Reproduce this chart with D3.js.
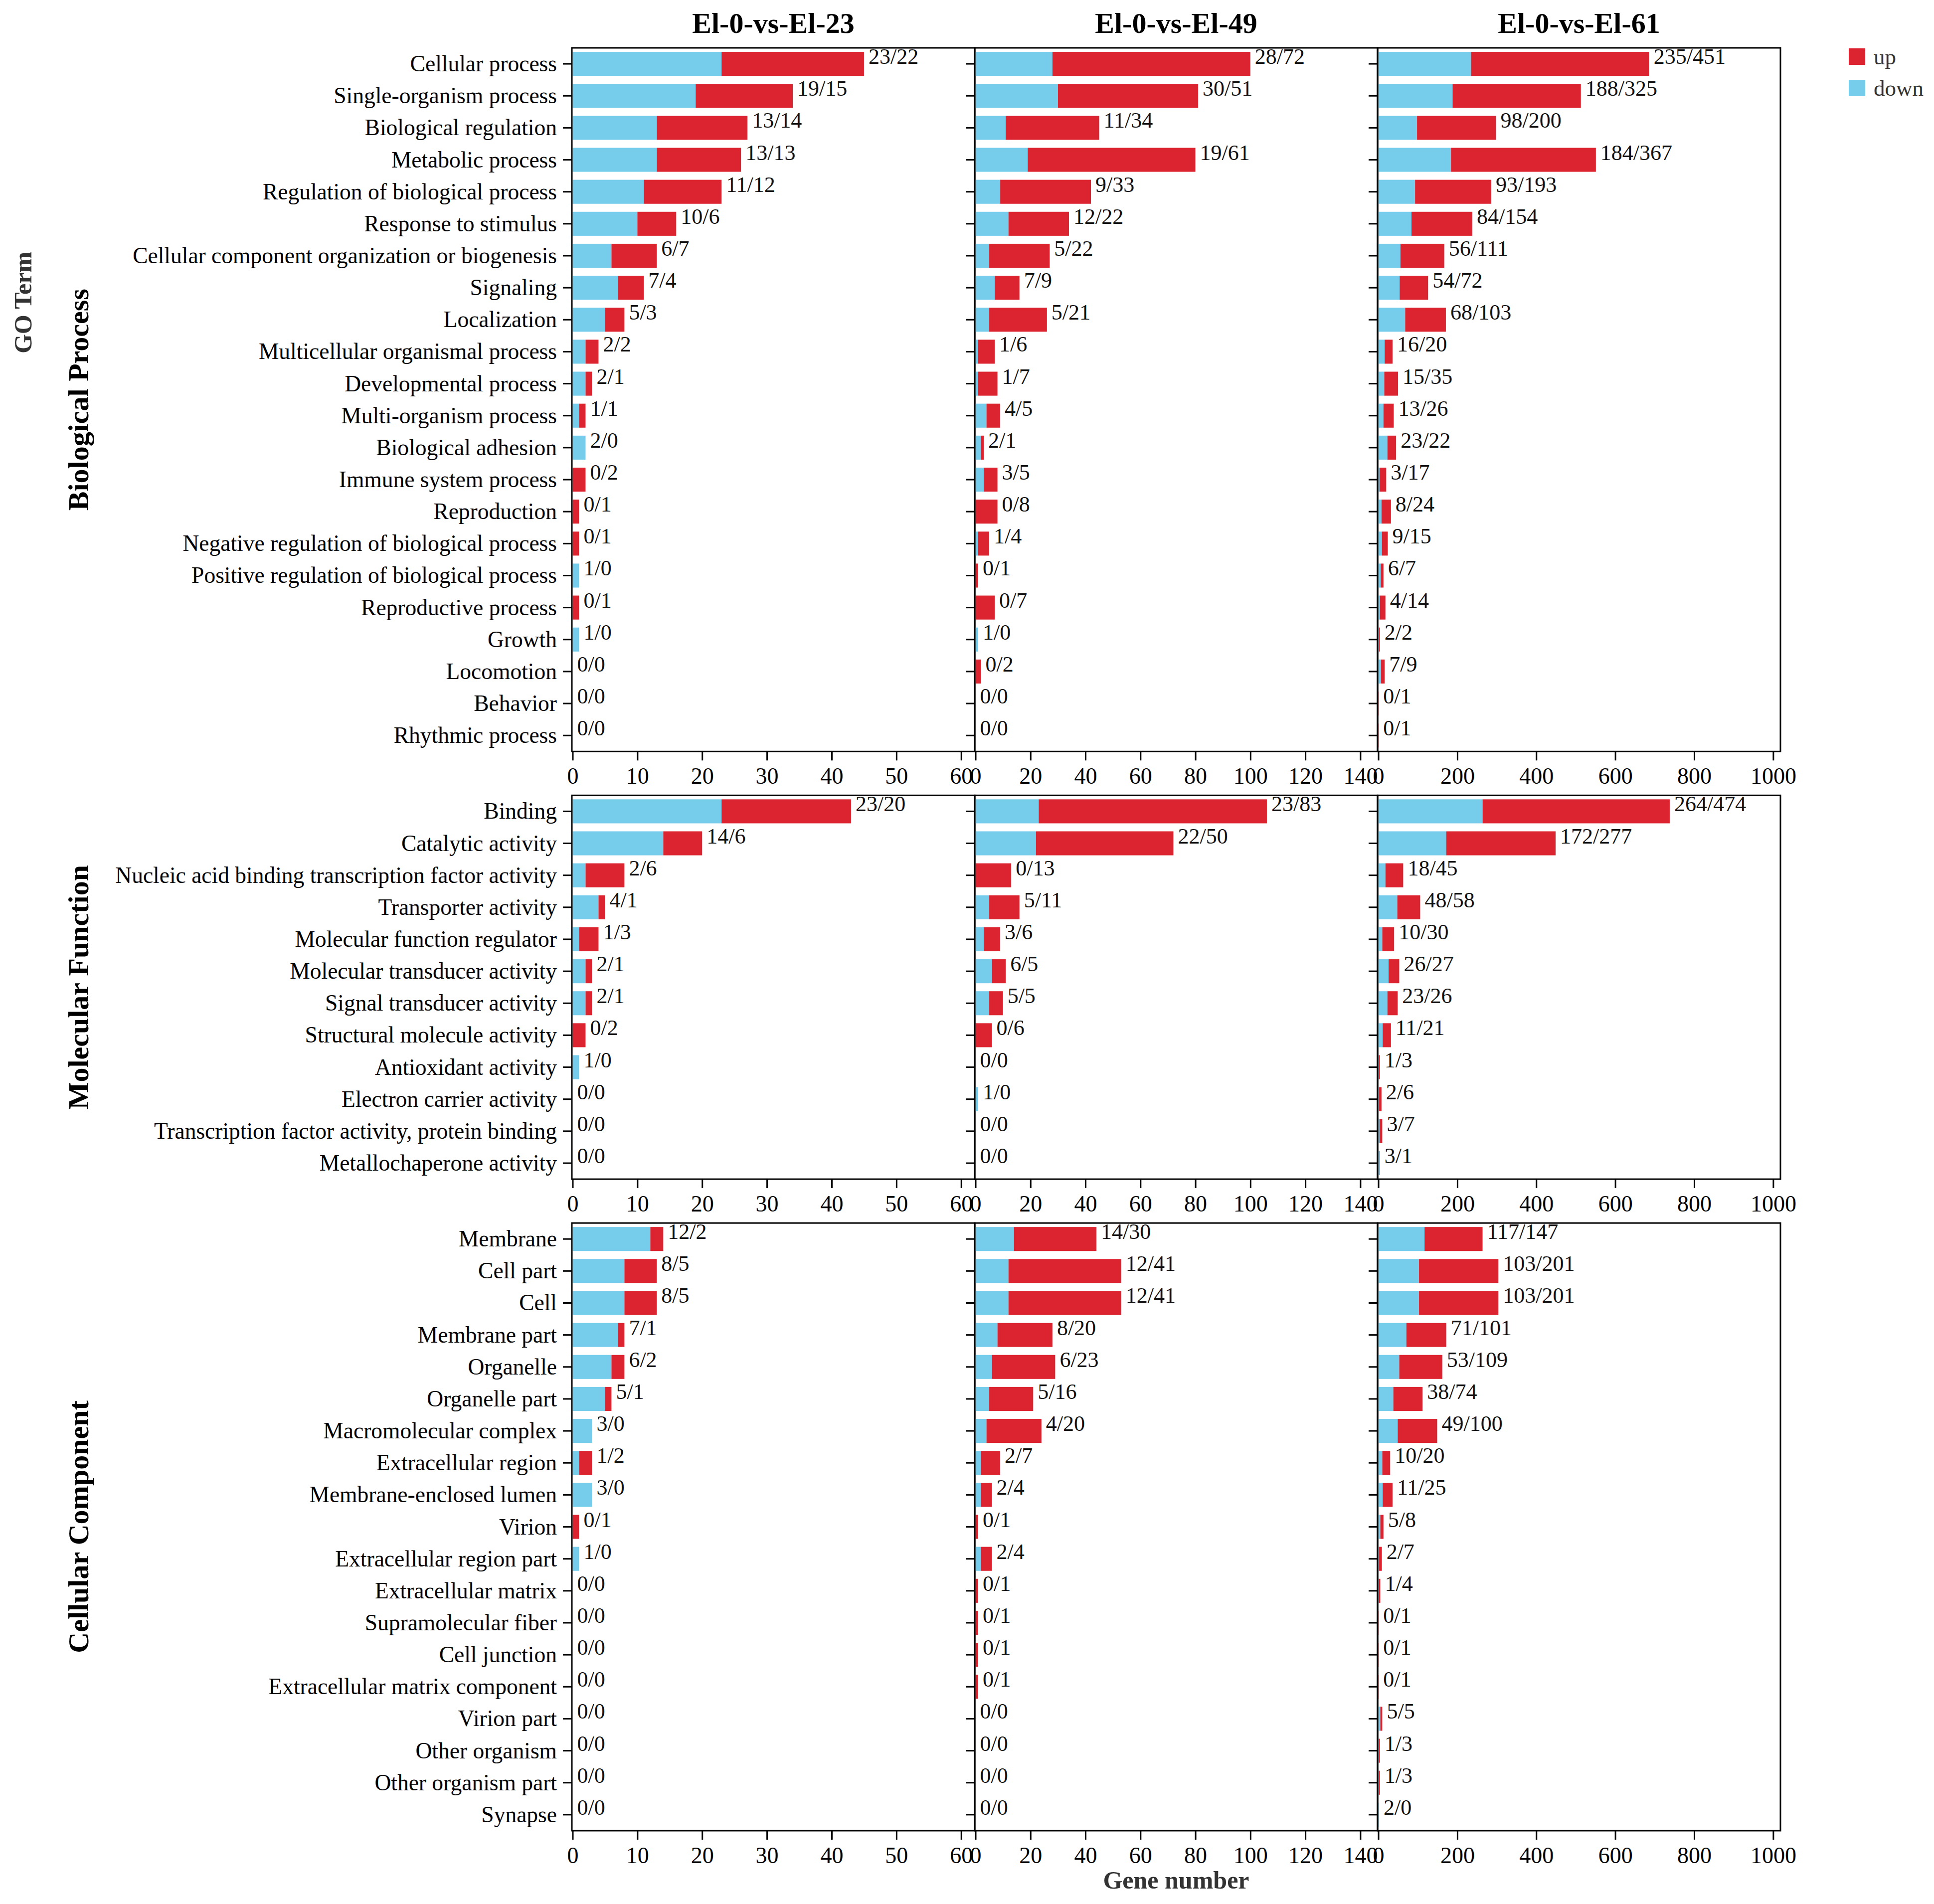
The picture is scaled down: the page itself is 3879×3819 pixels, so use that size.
<!DOCTYPE html>
<html>
<head>
<meta charset="utf-8">
<script src="https://cdn.jsdelivr.net/npm/d3@7"></script>
<style>
  body { margin: 0; background: #fff; }
  text { font-family: "Liberation Serif", "Times New Roman", serif; }
</style>
</head>
<body>
<svg></svg>
<script>
const comparisons = ["El-0-vs-El-23", "El-0-vs-El-49", "El-0-vs-El-61"]

const bpTerms = ["Cellular process", "Single-organism process", "Biological regulation", "Metabolic process",
	"Regulation of biological process", "Response to stimulus", "Cellular component organization or biogenesis",
	"Signaling", "Localization", "Multicellular organismal process", "Developmental process",
	"Multi-organism process", "Biological adhesion", "Immune system process", "Reproduction",
	"Negative regulation of biological process", "Positive regulation of biological process",
	"Reproductive process", "Growth", "Locomotion", "Behavior", "Rhythmic process"]
// one array per comparison
const bpDown = [
	[23, 19, 13, 13, 11, 10, 6, 7, 5, 2, 2, 1, 2, 0, 0, 0, 1, 0, 1, 0, 0, 0],
	[28, 30, 11, 19, 9, 12, 5, 7, 5, 1, 1, 4, 2, 3, 0, 1, 0, 0, 1, 0, 0, 0],
	[235, 188, 98, 184, 93, 84, 56, 54, 68, 16, 15, 13, 23, 3, 8, 9, 6, 4, 2, 7, 0, 0]
]
const bpUp = [
	[22, 15, 14, 13, 12, 6, 7, 4, 3, 2, 1, 1, 0, 2, 1, 1, 0, 1, 0, 0, 0, 0],
	[72, 51, 34, 61, 33, 22, 22, 9, 21, 6, 7, 5, 1, 5, 8, 4, 1, 7, 0, 2, 0, 0],
	[451, 325, 200, 367, 193, 154, 111, 72, 103, 20, 35, 26, 22, 17, 24, 15, 7, 14, 2, 9, 1, 1]
]

const mfTerms = ["Binding", "Catalytic activity", "Nucleic acid binding transcription factor activity",
	"Transporter activity", "Molecular function regulator", "Molecular transducer activity",
	"Signal transducer activity", "Structural molecule activity", "Antioxidant activity",
	"Electron carrier activity", "Transcription factor activity, protein binding", "Metallochaperone activity"]
const mfDown = [
	[23, 14, 2, 4, 1, 2, 2, 0, 1, 0, 0, 0],
	[23, 22, 0, 5, 3, 6, 5, 0, 0, 1, 0, 0],
	[264, 172, 18, 48, 10, 26, 23, 11, 1, 2, 3, 3]
]
const mfUp = [
	[20, 6, 6, 1, 3, 1, 1, 2, 0, 0, 0, 0],
	[83, 50, 13, 11, 6, 5, 5, 6, 0, 0, 0, 0],
	[474, 277, 45, 58, 30, 27, 26, 21, 3, 6, 7, 1]
]

const ccTerms = ["Membrane", "Cell part", "Cell", "Membrane part", "Organelle", "Organelle part",
	"Macromolecular complex", "Extracellular region", "Membrane-enclosed lumen", "Virion",
	"Extracellular region part", "Extracellular matrix", "Supramolecular fiber", "Cell junction",
	"Extracellular matrix component", "Virion part", "Other organism", "Other organism part", "Synapse"]
const ccDown = [
	[12, 8, 8, 7, 6, 5, 3, 1, 3, 0, 1, 0, 0, 0, 0, 0, 0, 0, 0],
	[14, 12, 12, 8, 6, 5, 4, 2, 2, 0, 2, 0, 0, 0, 0, 0, 0, 0, 0],
	[117, 103, 103, 71, 53, 38, 49, 10, 11, 5, 2, 1, 0, 0, 0, 5, 1, 1, 2]
]
const ccUp = [
	[2, 5, 5, 1, 2, 1, 0, 2, 0, 1, 0, 0, 0, 0, 0, 0, 0, 0, 0],
	[30, 41, 41, 20, 23, 16, 20, 7, 4, 1, 4, 1, 1, 1, 1, 0, 0, 0, 0],
	[147, 201, 201, 101, 109, 74, 100, 20, 25, 8, 7, 4, 1, 1, 1, 5, 3, 3, 0]
]

const groupNames = ["Biological Process", "Molecular Function", "Cellular Component"]
const xTicks = [
	[0, 10, 20, 30, 40, 50, 60],
	[0, 20, 40, 60, 80, 100, 120, 140],
	[0, 200, 400, 600, 800, 1000]
]
const legendKeys = ["up", "down"]
const colors = { up: "#dc2430", down: "#75cdeb" }

const groups = [
	{ name: groupNames[0], terms: bpTerms, down: bpDown, up: bpUp },
	{ name: groupNames[1], terms: mfTerms, down: mfDown, up: mfUp },
	{ name: groupNames[2], terms: ccTerms, down: ccDown, up: ccUp }
]

const svg = d3.select("svg")
	.attr("width", 3879)
	.attr("height", 3819)

const panelLeft = 1147
const panelW = 808
const topY = 96
const step = 64.15 // one row
const gap = 88 // between facet rows

// x scale per comparison, room left for the labels
const xScales = comparisons.map((c, ci) => {
	const maxTotal = d3.max(groups, g => d3.max(g.terms, (t, i) => g.down[ci][i] + g.up[ci][i]))
	const left = panelLeft + ci * panelW
	return d3.scaleLinear()
		.domain([0, maxTotal * 1.38])
		.range([left + 1.5, left + panelW])
})

let y0 = topY
groups.forEach((g, gi) => {
	const h = g.terms.length * step
	const yScale = d3.scaleBand()
		.domain(g.terms)
		.range([y0, y0 + h])
		.paddingInner(0.25)
		.paddingOuter(0.125)

	comparisons.forEach((c, ci) => {
		const x = xScales[ci]
		const left = panelLeft + ci * panelW
		const panel = svg.append("g").attr("class", "panel")

		const rows = g.terms.map((t, i) => ({ term: t, down: g.down[ci][i], up: g.up[ci][i] }))

		const bars = panel.selectAll("g.bar")
			.data(rows)
			.enter()
			.append("g")
			.attr("class", "bar")

		bars.append("rect")
			.attr("x", d => x(0))
			.attr("y", d => yScale(d.term))
			.attr("width", d => x(d.down) - x(0))
			.attr("height", yScale.bandwidth())
			.style("fill", colors.down)

		bars.append("rect")
			.attr("x", d => x(d.down))
			.attr("y", d => yScale(d.term))
			.attr("width", d => x(d.down + d.up) - x(d.down))
			.attr("height", yScale.bandwidth())
			.style("fill", colors.up)

		bars.append("text")
			.attr("x", d => x(d.down + d.up) + 9)
			.attr("y", d => yScale(d.term) + yScale.bandwidth() / 2)
			.attr("font-size", 44)
			.attr("fill", "#111")
			.text(d => `${d.down}/${d.up}`)

		// frame
		panel.append("rect")
			.attr("x", left)
			.attr("y", y0)
			.attr("width", panelW)
			.attr("height", h)
			.style("fill", "none")
			.style("stroke", "#000")
			.style("stroke-width", 3)

		// y axis ticks (labels only on first column)
		const yAxis = panel.append("g")
			.attr("transform", `translate(${left},0)`)
			.call(d3.axisLeft(yScale).tickSize(18).tickPadding(12).tickSizeOuter(0))
		yAxis.select(".domain").remove()
		yAxis.selectAll("line").style("stroke-width", 3)
		yAxis.selectAll("text")
			.attr("font-size", 45.5)
			.attr("font-family", "Liberation Serif, Times New Roman, serif")
			.attr("dy", "0.33em")
			.attr("fill", "#000")
		if (ci > 0) yAxis.selectAll("text").remove()

		const xAxis = panel.append("g")
			.attr("transform", `translate(0,${y0 + h})`)
			.call(d3.axisBottom(x).tickValues(xTicks[ci]).tickFormat(d3.format("d"))
				.tickSize(18).tickPadding(14).tickSizeOuter(0))
		xAxis.select(".domain").remove()
		xAxis.selectAll("line").style("stroke-width", 3)
		xAxis.selectAll("text")
			.attr("font-size", 46)
			.attr("font-family", "Liberation Serif, Times New Roman, serif")
			.attr("fill", "#000")
	})

	// facet label at the left
	svg.append("text")
		.attr("transform", `translate(177,${y0 + h / 2}) rotate(-90)`)
		.attr("text-anchor", "middle")
		.attr("font-size", 58)
		.attr("font-weight", "bold")
		.text(g.name)

	y0 += h + gap
})

// column titles
svg.selectAll("text.title")
	.data(comparisons)
	.enter()
	.append("text")
	.attr("class", "title")
	.attr("x", (d, i) => panelLeft + i * panelW + panelW / 2)
	.attr("y", 66)
	.attr("text-anchor", "middle")
	.attr("font-size", 58)
	.attr("font-weight", "bold")
	.text(d => d)

svg.append("text")
	.attr("transform", "translate(63,607) rotate(-90)")
	.attr("text-anchor", "middle")
	.attr("font-size", 50)
	.attr("font-weight", "bold")
	.attr("fill", "#333")
	.text("GO Term")

svg.append("text")
	.attr("x", panelLeft + panelW * 1.5)
	.attr("y", 3788)
	.attr("text-anchor", "middle")
	.attr("font-size", 50)
	.attr("font-weight", "bold")
	.attr("fill", "#333")
	.text("Gene number")

// legend
const legend = svg.selectAll("g.legend")
	.data(legendKeys)
	.enter()
	.append("g")
	.attr("class", "legend")
	.attr("transform", (d, i) => `translate(3708, ${97 + i * 63})`)

legend.append("rect")
	.attr("width", 33)
	.attr("height", 33)
	.style("fill", d => colors[d])

legend.append("text")
	.attr("x", 50)
	.attr("y", 32)
	.attr("font-size", 45)
	.attr("fill", "#333")
	.text(d => d)
</script>
</body>
</html>
